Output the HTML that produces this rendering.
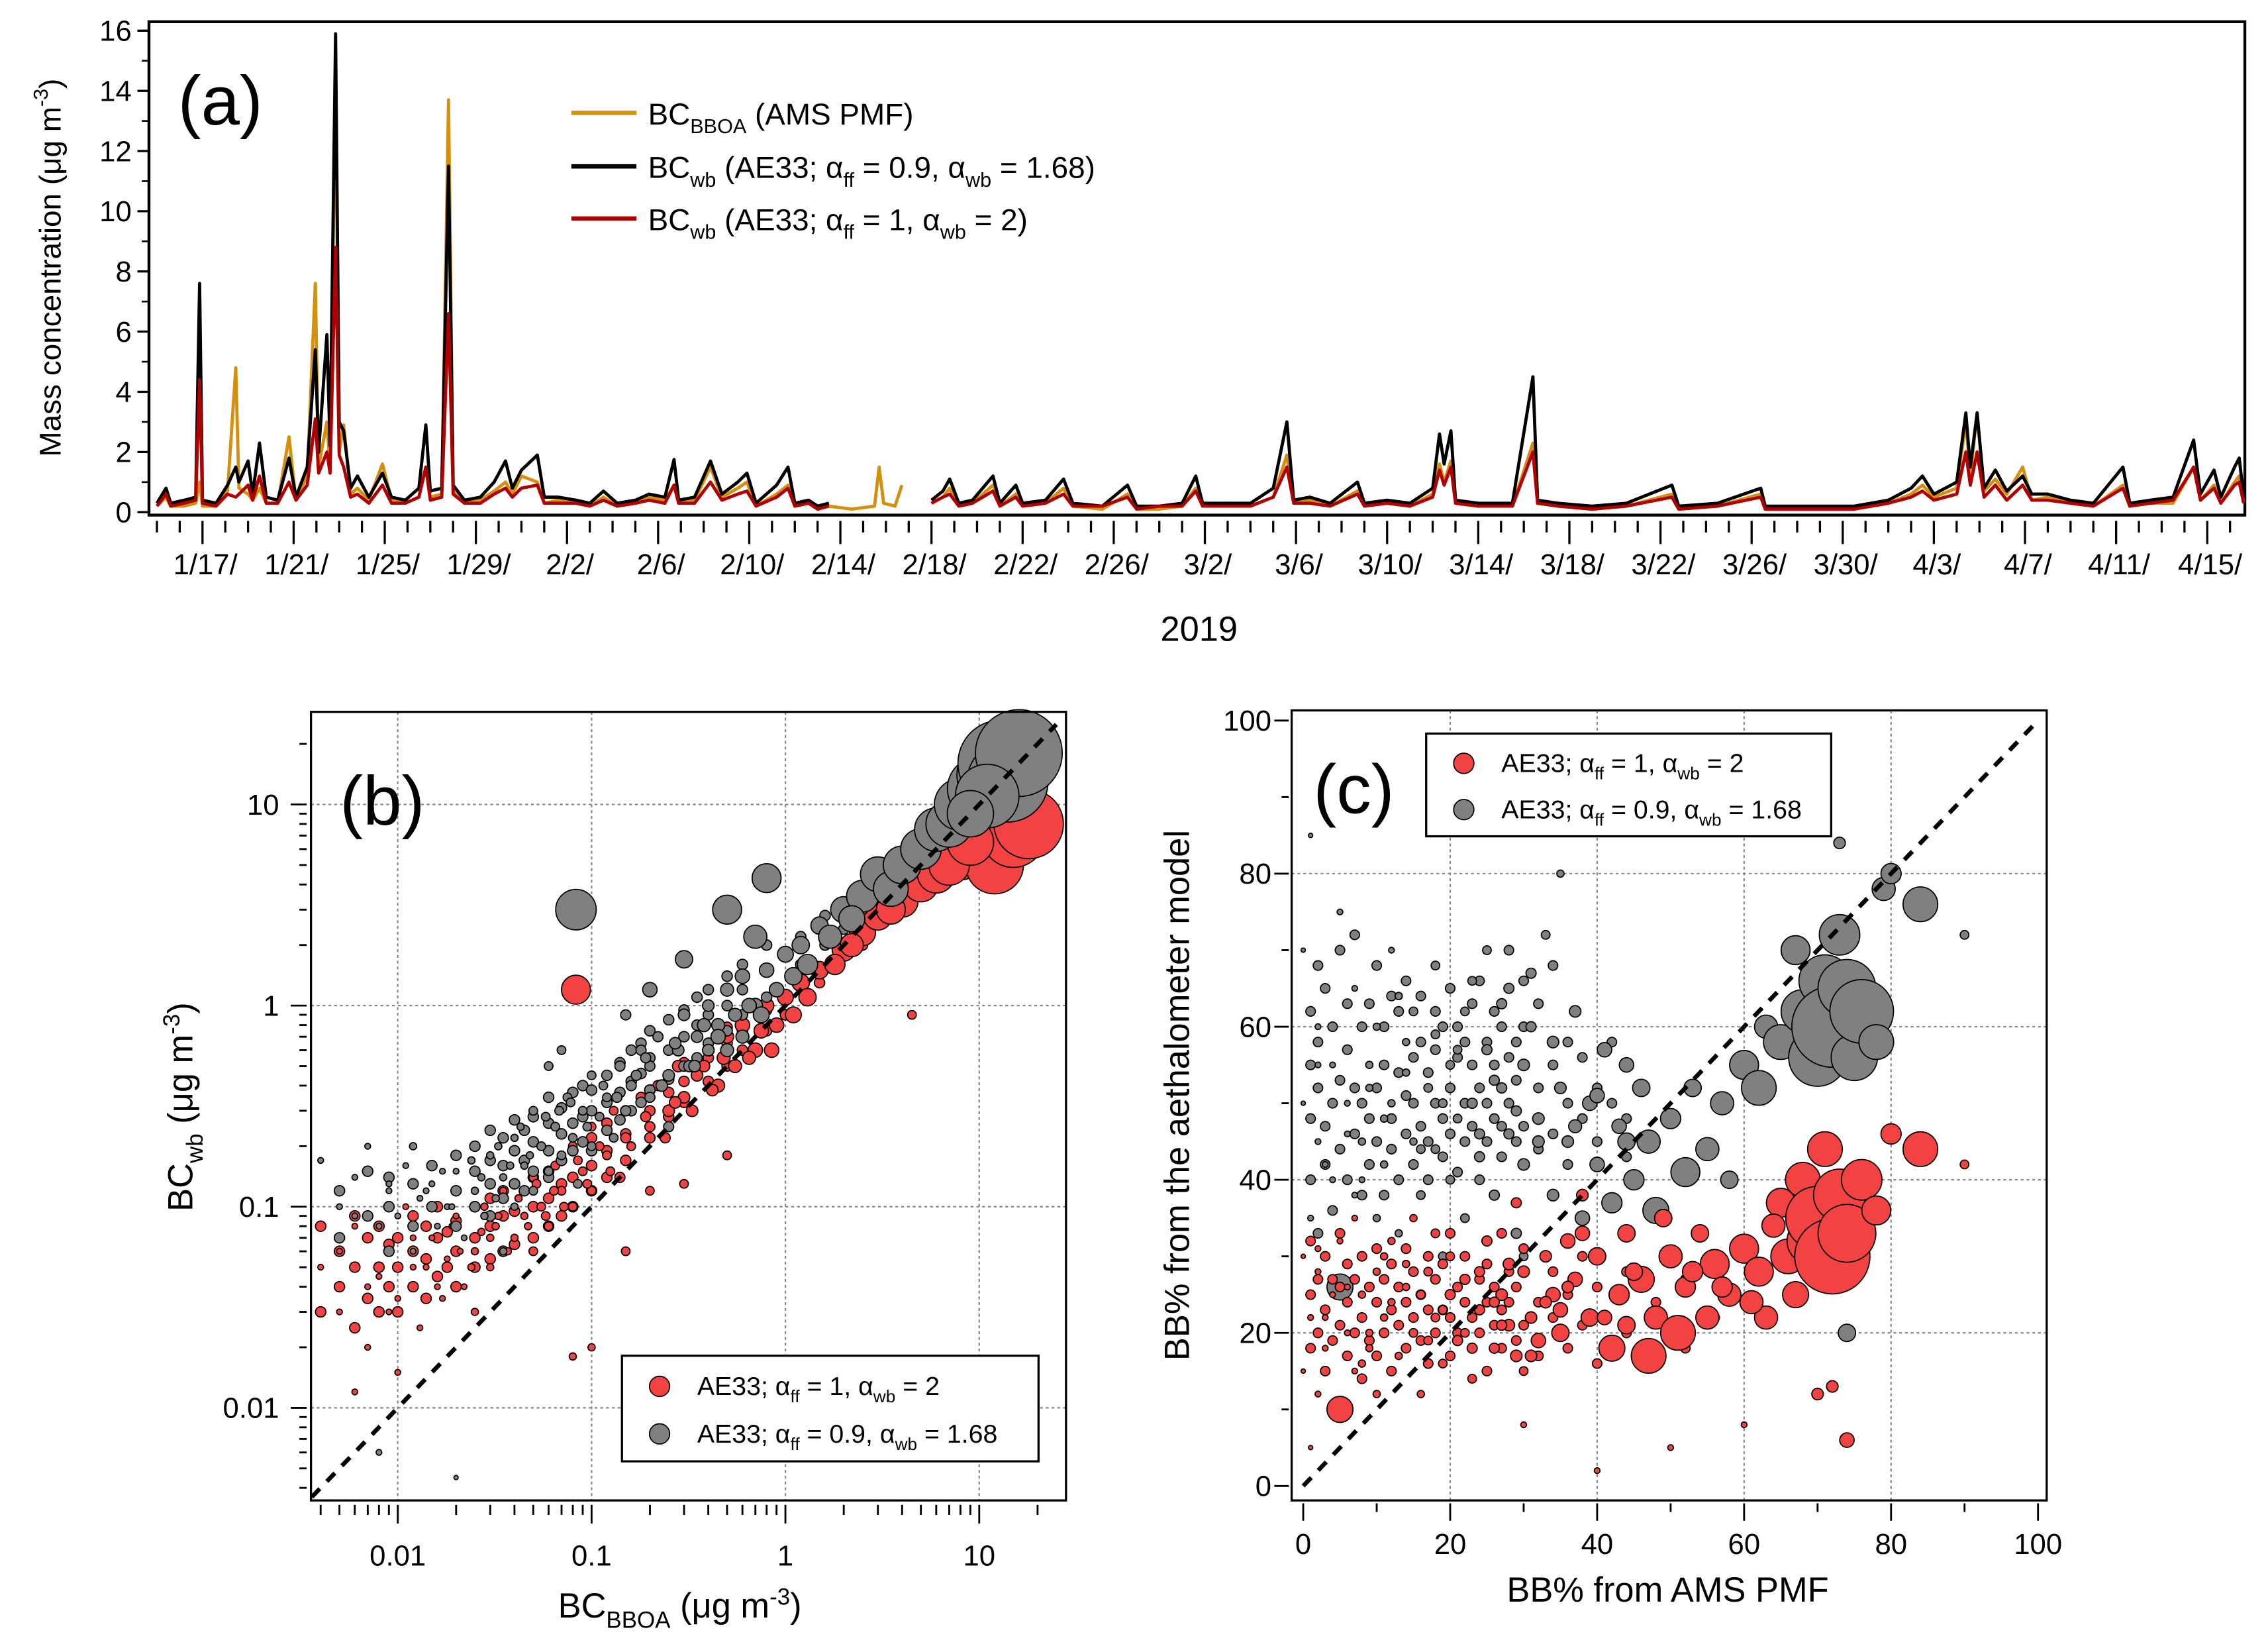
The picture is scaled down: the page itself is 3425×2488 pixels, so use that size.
<!DOCTYPE html>
<html><head><meta charset="utf-8"><style>
html,body{margin:0;padding:0;background:#fff}
svg{display:block;font-family:"Liberation Sans",Arial,sans-serif}
</style></head><body>
<svg id="fig" width="3425" height="2488" viewBox="0 0 1568 1139" preserveAspectRatio="none" xmlns="http://www.w3.org/2000/svg">
<rect width="1568" height="1139" fill="#fff"/>
<g id="pa"></g>
<g id="pb"></g>
<g id="pc"></g>
</svg>
<script>
// ---- Panel (a) data: days since 2019-01-15 00:00
const tDays=[0,0.4,0.6,1.2,1.7,1.87,2.0,2.6,3.1,3.46,3.6,4.0,4.2,4.5,4.8,5.3,5.8,6.1,6.6,6.95,7.1,7.46,7.6,7.84,8.0,8.2,8.5,8.8,9.3,9.9,10.3,10.9,11.5,11.8,12.0,12.5,12.8,13.0,13.5,14.2,14.8,15.3,15.6,16.0,16.7,17.0,17.6,18.4,19.0,19.6,20.2,21.0,21.6,22.3,22.7,22.9,23.6,24.3,24.8,25.5,25.9,26.3,27.2,27.7,28.0,28.6,29.0,29.5,30.5,31.5,31.7,31.9,32.4,32.7,33.5,34.0,34.5,34.8,35.2,35.8,36.7,37.0,37.7,38.0,39.0,39.8,40.2,41.5,42.6,43.0,44.0,45.0,45.6,45.9,47.0,48.0,49.0,49.6,49.9,50.6,51.5,52.7,53.0,54.0,55.0,56.0,56.3,56.5,56.8,57.0,58.0,59.5,60.4,60.6,61.5,63.0,64.5,66.5,66.8,68.5,70.4,70.6,72.5,74.5,76.0,77.0,77.5,78.0,79.0,79.4,79.6,79.9,80.2,80.7,81.2,81.9,82.3,83.0,84.0,85.0,86.3,86.6,87.5,88.5,89.4,89.7,90.3,90.6,91.2,91.4,91.6];
const bcBlack=[.3,.8,.3,.4,.5,7.6,.4,.3,.9,1.5,1.0,1.7,.6,2.3,.5,.4,1.8,.5,1.5,5.4,2.0,5.9,2.2,15.9,3.0,2.7,.8,1.2,.5,1.3,.5,.4,.8,2.9,.7,.8,11.5,.9,.4,.5,1.0,1.7,.8,1.4,1.9,.5,.5,.4,.3,.7,.3,.4,.6,.5,1.75,.4,.5,1.7,.6,1.0,1.3,.3,.9,1.5,.3,.4,.2,.3,null,null,null,null,null,null,null,.4,.7,1.1,.3,.4,1.2,.3,.9,.3,.4,1.1,.3,.2,.9,.2,.2,.3,1.2,.3,.3,.3,.8,3.0,.4,.5,.3,1.0,.3,.4,.3,.8,2.6,1.6,2.7,.4,.3,.3,4.5,.4,.3,.2,.3,.9,.2,.3,.8,.2,.2,.2,.4,.8,1.2,.6,1.0,3.3,1.5,3.3,.8,1.4,.7,1.2,.6,.6,.4,.3,1.5,.3,.4,.5,2.4,.6,1.4,.5,1.5,1.8,.5];
const bcOrange=[.2,.5,.2,.2,.3,1.0,.2,.2,.7,4.8,.8,.6,.4,.8,.3,.3,2.5,.4,1.2,7.6,1.5,3.0,1.5,14.5,2.0,2.9,.6,.8,.4,1.6,.4,.3,.5,1.5,.5,.6,13.7,.7,.3,.4,.7,1.0,.6,1.2,1.0,.3,.4,.3,.2,.5,.2,.3,.5,.4,.9,.3,.4,1.5,.5,.8,1.0,.2,.6,.9,.2,.3,.1,.2,.1,.2,1.5,.3,.2,.9,null,.3,.5,.8,.2,.3,.9,.2,.6,.2,.3,.8,.2,.1,.6,.1,.1,.2,.8,.2,.3,.2,.5,1.9,.3,.4,.2,.7,.2,.3,.2,.6,1.6,1.0,1.7,.3,.2,.2,2.3,.3,.2,.1,.2,.6,.1,.2,.6,.1,.1,.1,.3,.6,.9,.5,.8,3.0,1.2,3.3,.7,1.1,.6,1.5,.4,.5,.3,.2,.9,.2,.3,.3,1.5,.4,.9,.3,1.0,1.2,.3];
const bcRed=[.2,.6,.2,.3,.4,4.4,.3,.2,.6,.5,.6,.9,.4,1.2,.3,.3,1.0,.4,.9,3.1,1.3,2.0,1.3,8.8,1.9,1.5,.5,.6,.3,.9,.3,.3,.5,1.5,.4,.5,6.6,.6,.3,.3,.6,.8,.5,.8,.9,.3,.3,.3,.2,.4,.2,.3,.4,.3,.9,.3,.3,1.0,.4,.6,.7,.2,.5,.8,.2,.3,.1,.2,null,null,null,null,null,null,null,.3,.5,.6,.2,.3,.7,.2,.5,.2,.3,.6,.2,.2,.5,.1,.2,.2,.7,.2,.2,.2,.5,1.5,.3,.3,.2,.6,.2,.3,.2,.5,1.4,.9,1.5,.3,.2,.2,2.0,.3,.2,.1,.2,.5,.1,.2,.5,.1,.1,.1,.3,.5,.7,.4,.6,2.0,.9,2.0,.5,.9,.4,.9,.4,.4,.3,.2,.8,.2,.3,.4,1.5,.4,.8,.3,.9,1.0,.3];
const aYTicks=[0,2,4,6,8,10,12,14,16];
const aDateLabels=["1/17/","1/21/","1/25/","1/29/","2/2/","2/6/","2/10/","2/14/","2/18/","2/22/","2/26/","3/2/","3/6/","3/10/","3/14/","3/18/","3/22/","3/26/","3/30/","4/3/","4/7/","4/11/","4/15/"];

// ---- Panel (b) data
const bRedX=[.004,.005,.006,.007,.008,.009,.01,.011,.012,.013,.015,.016,.018,.02,.022,.025,.028,.03,.032,.035,.04,.045,.05,.05,.055,.06,.065,.07,.08,.08,.09,.1,.1,.12,.13,.14,.15,.18,.2,.22,.25,.28,.3,.35,.4,.45,.5,.55,.6,.7,.8,.9,1.0,1.2,1.5,2,2.5,3,4,5,6,8,10,12,15,18,.083,.5,.3,.15,.1,.08,4.5,.01,.2,.025,.006,.005,.007,.009,.012,.014,.017,.019,.021,.024,.027,.03,.033,.037,.042,.047,.052,.058,.064,.072,.085,.095,.11,.125,.16,.19,.24,.27,.33,.38,.42,.48,.65,.75,.85,1.1,1.3,1.8,2.2,3.5,7,9];
const bRedY=[.05,.03,.08,.02,.045,.06,.035,.1,.05,.025,.07,.04,.055,.09,.04,.06,.1,.05,.08,.12,.07,.09,.06,.14,.1,.08,.16,.12,.1,.2,.15,.12,.25,.18,.3,.14,.22,.35,.25,.4,.3,.5,.35,.45,.6,.4,.7,.5,.8,.6,1.0,.8,1.1,1.3,1.5,1.9,2.3,2.8,3.3,4,4.5,5.5,6,5,7,8,1.2,.18,.13,.06,.02,.018,.9,.015,.12,.03,.012,.06,.04,.03,.07,.05,.035,.08,.06,.05,.075,.07,.09,.06,.11,.08,.13,.09,.12,.1,.17,.13,.2,.15,.2,.28,.22,.33,.3,.5,.38,.55,.55,.75,.6,.9,1.1,1.6,2.0,3.0,5.0,6.5];
const bRedS=[2,2,2,2,2,2,2,2,2,2,2,2,2,2,2,2.5,2.5,2.5,2.5,2.5,2.5,2.5,3,3,3,3,3,3,3,3,3,3,3,3,3,3.5,3.5,3.5,3.5,3.5,4,4,4,4,4,4.5,4.5,4.5,5,5,5,5,5.5,6,6,8,9,10,11,12,13,16,18,20,22,24,10,3,3,3,2.5,2.5,3,2,3,2.5,2,2,2,2,2,2,2,2,2,2.5,2.5,2.5,2.5,2.5,2.5,2.5,3,3,3,3,3,3,3,3,3,3.5,3.5,4,4,4,4,4.5,4.5,5,5,5.5,6,7,8,10,14,16];
const bRedXMore=[.004,.004,.005,.005,.006,.006,.006,.007,.007,.008,.008,.008,.009,.009,.01,.01,.01,.012,.012,.012,.014,.014,.014,.016,.016,.016,.018,.018,.02,.02,.02,.025,.025,.025,.03,.03,.03,.035,.035,.035,.04,.04,.04,.05,.05,.05,.06,.06,.06,.07,.07,.07,.08,.08,.08,.1,.1,.1,.12,.12,.12,.15,.15,.15,.2,.2,.2,.25,.25,.25,.3,.3,.3,.4,.4,.4,.5,.5,.5,.6,.6,.8,.8,1.0,1.0,1.5,2.5,3.5];
const bRedYMore=[.03,.08,.04,.06,.025,.05,.09,.035,.07,.03,.05,.08,.04,.065,.03,.05,.07,.04,.06,.09,.035,.055,.08,.045,.07,.1,.05,.075,.04,.06,.085,.05,.07,.1,.055,.08,.11,.06,.09,.12,.065,.095,.13,.07,.1,.14,.08,.11,.15,.09,.13,.17,.1,.14,.19,.12,.16,.22,.14,.19,.26,.17,.23,.3,.22,.3,.38,.28,.37,.45,.33,.42,.52,.42,.55,.65,.5,.65,.78,.6,.75,.75,.95,.9,1.1,1.3,2.0,2.8];
const bGreyX=[.004,.005,.006,.007,.008,.009,.01,.011,.012,.013,.015,.016,.018,.02,.022,.025,.028,.03,.032,.035,.04,.04,.045,.05,.05,.055,.06,.065,.07,.075,.08,.085,.09,.1,.1,.11,.12,.13,.14,.15,.16,.18,.2,.2,.22,.25,.28,.3,.32,.35,.4,.4,.45,.5,.5,.55,.6,.7,.8,.9,1.0,1.2,1.5,2.0,2.5,3,3.5,4,5,6,7,8,10,12,13,14,.083,.8,.5,.7,.3,.2,.012,.008,.02,.07,.15,.25,.6,.035,.06,.006,.009,.014,.017,.019,.024,.027,.033,.038,.043,.048,.058,.068,.078,.095,.115,.135,.17,.19,.23,.27,.34,.38,.45,.65,.75,1.1,1.3,1.7,2.2,16,11,9];
const bGreyY=[.17,.1,.14,.2,.08,.12,.09,.16,.06,.11,.13,.08,.1,.15,.07,.12,.09,.18,.11,.14,.1,.22,.16,.12,.3,.2,.15,.25,.18,.35,.22,.13,.3,.2,.45,.28,.35,.22,.5,.3,.4,.6,.35,.5,.7,.45,.6,.9,.5,.7,.6,1.0,.8,.6,1.2,.9,1.4,1.0,1.5,1.2,1.8,2.0,2.5,3.0,3.5,4.5,3.8,5,6,7.5,8,10,12,14,16,13,3.0,4.3,3.0,2.2,1.7,1.2,.2,.006,.0045,.6,.9,.25,.7,.06,.5,.09,.13,.12,.15,.1,.17,.14,.2,.16,.25,.18,.28,.3,.33,.25,.4,.35,.45,.55,.4,.65,.5,.8,.7,1.0,.9,1.4,1.6,2.2,2.7,18,11,9];
const bGreyS=[2,2,2,2,2,2,2,2,2,2,2,2,2,2,2,2.5,2.5,2.5,2.5,2.5,2.5,2.5,2.5,3,3,3,3,3,3,3,3,3,3,3,3,3,3,3,3.5,3.5,3.5,3.5,3.5,3.5,3.5,4,4,4,4,4,4,4,4.5,4.5,4.5,4.5,5,5,5,5,5.5,6,6,9,11,12,12,13,14,15,16,18,22,26,30,28,14,10,10,8,6,5,2.5,2,1.5,3,3.5,3.5,4.5,2.5,3,2,2,2,2,2,2.5,2.5,2.5,2.5,2.5,2.5,3,3,3,3,3,3.5,3.5,3.5,4,4,4,4.5,5,5,5.5,6,7,8,9,30,22,16];
const bGreyXMore=[.005,.005,.007,.007,.009,.009,.009,.012,.012,.015,.015,.02,.02,.02,.025,.025,.025,.03,.03,.03,.03,.035,.035,.035,.04,.04,.04,.045,.045,.045,.05,.05,.05,.06,.06,.06,.06,.07,.07,.07,.08,.08,.08,.09,.09,.09,.1,.1,.1,.12,.12,.12,.14,.14,.14,.16,.16,.16,.18,.18,.18,.2,.2,.2,.25,.25,.25,.3,.3,.3,.35,.35,.35,.4,.4,.4,.5,.5,.5,.6,.6,.6,.8,.8,.8,1.2,1.2,1.6,1.6,2,2.5,3,3];
const bGreyYMore=[.07,.12,.09,.15,.06,.1,.14,.08,.13,.1,.16,.08,.12,.18,.1,.15,.2,.09,.13,.17,.24,.11,.16,.22,.13,.19,.27,.12,.17,.24,.15,.21,.28,.14,.19,.26,.35,.17,.23,.31,.19,.26,.37,.21,.28,.4,.19,.3,.38,.24,.33,.45,.27,.37,.52,.3,.42,.6,.33,.46,.65,.38,.55,.75,.43,.6,.85,.5,.7,.95,.55,.8,1.1,.65,.9,1.2,.75,1.0,1.4,.9,1.2,1.6,1.1,1.5,2.0,1.6,2.2,2.0,2.8,2.4,3,3.6,4.4];

// ---- Panel (c) data
const cRedX=[0,0,1,1,2,2,3,4,5,5,6,7,7,8,9,10,10,11,12,13,14,15,15,16,17,18,19,20,20,21,22,23,24,25,26,27,28,29,30,30,31,32,33,34,35,36,37,38,39,40,42,43,44,46,47,48,50,51,52,54,55,56,58,60,62,63,65,66,68,69,70,71,72,73,74,76,78,80,84,90,70,72,74,50,40,60,30,3,6,9,12,14,17,19,22,24,27,29,33,36,41,45,2,8,11,16,18,23,26,28,31,35,38,44,49,53,57,61,64,67];
const cRedY=[30,15,5,22,12,28,18,25,10,32,20,15,35,25,18,28,12,22,32,17,26,20,35,12,28,22,16,30,25,19,27,14,23,32,18,25,21,37,28,15,22,19,30,25,20,32,27,38,22,30,18,25,33,27,17,22,30,20,26,33,22,29,25,31,28,22,37,30,40,32,35,44,30,38,33,40,36,46,44,42,12,13,6,5,2,8,8,22,26,20,24,29,19,23,20,28,21,17,24,26,22,28,31,16,30,25,33,18,24,29,17,23,33,21,35,28,26,24,34,25,27];
const cRedS=[1.5,1.5,1.5,2,2,2,2,2,9,2,2,2,2,2.5,2.5,2.5,2.5,2.5,2.5,2.5,2.5,3,2.5,2.5,3,3,3,3,3.5,3.5,3.5,3,3.5,3.5,3.5,4,4,3.5,4,3,4,5,4,5,6,5,5,4,6,6,9,7,6,9,12,8,8,12,7,6,8,10,8,10,10,8,10,12,12,16,22,12,26,18,20,14,10,7,12,3,4,4,5,2,2,2,2,2,2,2.5,2.5,2.5,3,3,3,3.5,3.5,4,4,4,5,6,2,2.5,2.5,3,3,3.5,3.5,4,4,5,5,6,6,7,7,8,8,9];
const cRedXMore=[1,1,1,2,2,3,3,3,4,4,5,5,5,6,6,6,7,7,8,8,8,9,9,10,10,10,11,11,12,12,12,13,13,14,14,14,15,15,16,16,17,17,17,18,18,19,19,20,20,20,21,21,22,22,23,23,24,24,25,25,25,26,26,27,27,27,28,28,29,29,30,30,32,32,34,34,36,36,38,38,40,40,44,44,48,52,52,56];
const cRedYMore=[18,25,32,20,27,15,23,30,19,27,21,26,33,17,24,29,20,27,14,22,30,19,26,17,24,31,20,27,15,23,29,21,26,18,24,31,22,28,19,25,16,23,30,20,27,23,29,17,22,33,20,26,24,30,18,22,20,27,15,24,29,21,26,18,23,33,24,28,19,26,21,31,17,24,22,28,18,25,21,30,16,26,20,28,24,18,27,22];
const cGreyX=[0,0,1,1,2,2,3,4,4,5,5,6,7,7,8,9,10,10,11,12,12,13,14,15,15,16,17,18,18,19,20,20,21,22,22,23,24,25,25,26,27,28,28,29,30,30,31,32,33,34,35,35,36,37,38,39,40,41,42,43,44,45,46,47,48,50,52,53,55,57,58,60,62,63,65,67,68,70,71,72,73,74,75,76,78,79,80,84,90,73,74,72,30,20,3,6,9,11,14,16,19,21,24,26,29,32,34,37,40,44,13,18,23,27,31,2,8];
const cGreyY=[50,70,85,35,45,60,30,55,40,26,75,50,38,65,45,55,35,60,42,50,70,33,58,45,62,38,52,44,68,30,55,40,48,62,35,50,43,57,70,38,52,46,65,33,55,42,60,48,72,38,52,80,45,62,35,50,42,57,37,47,55,40,52,45,36,48,41,52,44,50,40,55,52,60,58,70,62,56,66,60,72,65,56,62,58,78,80,76,72,84,20,27,30,25,42,46,52,48,54,44,50,57,46,53,49,45,58,47,51,45,64,59,66,63,67,55,40];
const cGreyS=[1.5,1.5,1.5,2,2,2,2,2,2,9,2,2,2,2,2.5,2.5,2.5,2.5,2.5,2.5,2,2.5,2.5,2.5,3,3,3,3,3,3,3,3,3,3,3,3.5,3.5,3.5,3,3.5,3.5,3.5,3.5,3.5,4,4,3.5,4,3,4,4,2.5,4,4,5,5,5,5,7,5,5,7,6,8,9,7,10,6,8,8,6,10,12,8,12,10,15,20,18,28,14,20,16,22,12,8,7,12,3,4,6,4,3,3,2,2,2.5,2.5,2.5,3,3,3,3.5,3.5,3.5,4,4,4.5,5,6,2.5,3,3,3.5,3.5,2,2];
const cGreyXMore=[1,1,1,1,2,2,2,2,3,3,3,4,4,4,5,5,5,6,6,6,7,7,7,8,8,8,9,9,9,10,10,10,11,11,11,12,12,12,13,13,13,14,14,14,15,15,15,16,16,16,17,17,17,18,18,18,19,19,19,20,20,20,21,21,21,22,22,22,23,23,23,24,24,24,25,25,25,26,26,26,27,27,27,28,28,28,29,29,29,30,30,30,32,32,32,34,34,34,36,36,36,38,38,40,40,42,42,44,44];
const cGreyYMore=[40,48,55,62,33,52,58,68,42,47,65,36,50,60,44,53,70,40,57,63,46,52,72,38,50,60,42,48,63,45,52,68,38,55,60,44,48,64,40,54,62,46,51,66,42,50,56,47,58,64,40,45,54,50,57,62,43,48,60,46,52,65,41,56,60,45,50,58,47,55,63,40,52,66,45,50,58,48,55,62,43,47,60,50,56,70,45,53,58,47,60,66,44,52,63,46,55,68,42,50,58,48,56,45,52,50,58,43,48];

const NS='http://www.w3.org/2000/svg';
function mk(parent,tag,attrs){const e=document.createElementNS(NS,tag);for(const k in attrs)e.setAttribute(k,attrs[k]);parent.appendChild(e);return e;}
function txt(parent,x,y,s,size,anchor,extra){const t=mk(parent,'text',Object.assign({x:x,y:y,'font-size':size,'text-anchor':anchor||'middle',fill:'#000'},extra||{}));t.textContent=s;return t;}
function sub(t,s,size,dy){const sp=mk(t,'tspan',{'font-size':size,dy:dy});sp.textContent=s;return sp;}
function plain(t,s,dy){const sp=mk(t,'tspan',{dy:dy||0});sp.textContent=s;return sp;}

// ================= Panel (a) =================
const pa=document.getElementById('pa');
const aL=103,aR=1552,aT=15,aB=356;
const ax=t=>108.5+t*15.75;
const ay=v=>354-v*20.8;
const frameA=mk(pa,'rect',{x:aL,y:aT,width:aR-aL,height:aB-aT,fill:'none',stroke:'#000','stroke-width':2});


aYTicks.forEach(v=>{
  const l=mk(pa,'line',{x1:aL-8,x2:aL,y1:ay(v),y2:ay(v),stroke:'#000','stroke-width':1.5});
  
  
  if(v<16){const m=mk(pa,'line',{x1:aL-5,x2:aL,y1:ay(v+1),y2:ay(v+1),stroke:'#000','stroke-width':1.2});}
  const t=txt(pa,aL-12,ay(v)+7,String(v),20,'end');
  
  
});
for(let d=0;d<=91;d++){
  const major=(d-2)%4===0&&d>=2;
  const l=mk(pa,'line',{x1:ax(d),x2:ax(d),y1:aB+4,y2:aB+(major?20:12),stroke:'#000','stroke-width':1.5});
  
  
}
aDateLabels.forEach((s,i)=>{
  const t=txt(pa,ax(2+i*4)+2,397,s,20,'middle');
  
  
});
const yr=txt(pa,829,443,'2019',24,'middle');


const yla=txt(pa,0,0,'Mass concentration (μg m',21,'middle',{transform:'translate(42,185) rotate(-90)'});
sub(yla,'-3',14,-9);plain(yla,')',9);


function series(vals,color,name,w){
  let d='',pen=false;
  tDays.forEach((t,i)=>{const v=vals[i];if(v===null){pen=false;return;}d+=(pen?'L':'M')+ax(t).toFixed(1)+','+ay(v).toFixed(1);pen=true;});
  const p=mk(pa,'path',{d:d,fill:'none',stroke:color,'stroke-width':w,'stroke-linejoin':'round'});
  
  
}
series(bcOrange,'#d4900c','line-bc-bboa',2.2);
series(bcBlack,'#000','line-bc-wb-0.9-1.68',2.2);
series(bcRed,'#b00000','line-bc-wb-1-2',2.2);
const la=txt(pa,123,86,'(a)',48,'start');


const legA=[['#d4900c',78,'BBOA',' (AMS PMF)',null],['#000',115,'wb',' (AE33; ','0.9, ','1.68)'],['#b00000',151,'wb',' (AE33; ','1, ','2)']];
legA.forEach((e,i)=>{
  const l=mk(pa,'line',{x1:395,x2:440,y1:e[1],y2:e[1],stroke:e[0],'stroke-width':3});
  
  
  const t=txt(pa,448,e[1]+8,'BC',21,'start');
  sub(t,e[2],14,6);
  if(i===0){plain(t,e[3],-6);}
  else{plain(t,e[3],-6);plain(t,'α',0);sub(t,'ff',14,6);plain(t,'  = '+e[4],-6);plain(t,'α',0);sub(t,'wb',14,6);plain(t,' = '+e[5],-6);}
  
  
});

// ================= Panel (b) =================
const pb=document.getElementById('pb');
const bL=215,bR=737,bT=492,bB=1037;
const bx=v=>275+(Math.log10(v)+2)*134;
const by=v=>973-(Math.log10(v)+2)*139;
const bDec=[0.01,0.1,1,10];
const bDecLabels=['0.01','0.1','1','10'];
bDec.forEach((v,i)=>{
  const g1=mk(pb,'line',{x1:bx(v),x2:bx(v),y1:bT,y2:bB,stroke:'#888','stroke-width':1,'stroke-dasharray':'2,2'});
  
  
  const g2=mk(pb,'line',{x1:bL,x2:bR,y1:by(v),y2:by(v),stroke:'#888','stroke-width':1,'stroke-dasharray':'2,2'});
  
  
  const tx=txt(pb,bx(v),1082,bDecLabels[i],20,'middle');
  
  
  const ty=txt(pb,bL-22,by(v)+7,bDecLabels[i],20,'end');
  
  
});
for(let e=-3;e<=1;e++)for(let m=1;m<=9;m++){
  const v=m*Math.pow(10,e);
  if(v>0.0035&&v<28){const l=mk(pb,'line',{x1:bx(v),x2:bx(v),y1:bB+3,y2:bB+(m===1?16:10),stroke:'#000','stroke-width':1.3});}
  if(by(v)>bT&&by(v)<bB){const l=mk(pb,'line',{x1:bL-(m===1?14:8),x2:bL-3,y1:by(v),y2:by(v),stroke:'#000','stroke-width':1.3});}
}
function dots(g,X,Y,S,fx,fy,fill,name){
  X.forEach((x,i)=>{
    const r=Array.isArray(S)?S[i]:S;
    const c=mk(g,'circle',{cx:fx(x).toFixed(1),cy:fy(Y[i]).toFixed(1),r:r,fill:fill,stroke:'#000','stroke-width':0.8});
    
    
  });
}
dots(pb,bRedXMore,bRedYMore,3.6,bx,by,'#f24242','point-red-b');
dots(pb,bRedX,bRedY,bRedS,bx,by,'#f24242','point-red-b');
dots(pb,bGreyXMore,bGreyYMore,3.6,bx,by,'#808080','point-grey-b');
dots(pb,bGreyX,bGreyY,bGreyS,bx,by,'#808080','point-grey-b');
const oneB=mk(pb,'line',{x1:bx(0.0036),y1:by(0.0036),x2:bx(25),y2:by(25),stroke:'#000','stroke-width':3,'stroke-dasharray':'8,7'});


const frameB=mk(pb,'rect',{x:bL,y:bT,width:bR-bL,height:bB-bT,fill:'none',stroke:'#000','stroke-width':1.5});


const lb=txt(pb,235,570,'(b)',48,'start');


const xlb=txt(pb,470,1118,'BC',24,'middle');sub(xlb,'BBOA',16,7);plain(xlb,' (μg m',-7);sub(xlb,'-3',16,-9);plain(xlb,')',9);


const ylb=txt(pb,0,0,'BC',24,'middle',{transform:'translate(133,765) rotate(-90)'});sub(ylb,'wb',16,7);plain(ylb,' (μg m',-7);sub(ylb,'-3',16,-9);plain(ylb,')',9);


function legend(g,x,y,w,h,tag){
  const r=mk(g,'rect',{x:x,y:y,width:w,height:h,fill:'#fff',stroke:'#000','stroke-width':1.5});
  
  
  [['#f24242','1','2'],['#808080','0.9','1.68']].forEach((e,i)=>{
    const cy=y+h*(i===0?0.29:0.74);
    const c=mk(g,'circle',{cx:x+26,cy:cy,r:7,fill:e[0],stroke:'#000','stroke-width':0.8});
    
    
    const t=txt(g,x+52,cy+6,'AE33; α',18,'start');sub(t,'ff',12,5);plain(t,' = '+e[1]+', α',-5);sub(t,'wb',12,5);plain(t,' = '+e[2],-5);
    
    
  });
}
legend(pb,430,937,288,73,'b');

// ================= Panel (c) =================
const pc=document.getElementById('pc');
const cL=893,cR=1415,cT=491,cB=1037;
const cx=v=>901+v*5.08;
const cy=v=>1027-v*5.29;
const cTicks=[0,20,40,60,80,100];
cTicks.forEach(v=>{
  if(v>0&&v<100){
    const g1=mk(pc,'line',{x1:cx(v),x2:cx(v),y1:cT,y2:cB,stroke:'#888','stroke-width':1,'stroke-dasharray':'2,2'});
    
    
    const g2=mk(pc,'line',{x1:cL,x2:cR,y1:cy(v),y2:cy(v),stroke:'#888','stroke-width':1,'stroke-dasharray':'2,2'});
    
    
  }
  const tx=txt(pc,cx(v),1074,String(v),20,'middle');
  
  
  const ty=txt(pc,cL-14,cy(v)+7,String(v),20,'end');
  
  
});
for(let v=0;v<=100;v+=10){
  const l1=mk(pc,'line',{x1:cx(v),x2:cx(v),y1:cB+2,y2:cB+(v%20===0?14:8),stroke:'#000','stroke-width':1.3});
  
  
  const l2=mk(pc,'line',{x1:cL-(v%20===0?12:7),x2:cL-2,y1:cy(v),y2:cy(v),stroke:'#000','stroke-width':1.3});
  
  
}
dots(pc,cGreyXMore,cGreyYMore,3.3,cx,cy,'#808080','point-grey-c');
dots(pc,cGreyX,cGreyY,cGreyS,cx,cy,'#808080','point-grey-c');
dots(pc,cRedXMore,cRedYMore,3.3,cx,cy,'#f24242','point-red-c');
dots(pc,cRedX,cRedY,cRedS,cx,cy,'#f24242','point-red-c');
const oneC=mk(pc,'line',{x1:cx(0),y1:cy(0),x2:cx(100),y2:cy(100),stroke:'#000','stroke-width':3,'stroke-dasharray':'8,7'});


const frameC=mk(pc,'rect',{x:cL,y:cT,width:cR-cL,height:cB-cT,fill:'none',stroke:'#000','stroke-width':1.5});


const lc=txt(pc,908,562,'(c)',48,'start');


legend(pc,986,507,280,71,'c');
const xlc=txt(pc,1153,1107,'BB% from AMS PMF',24,'middle');


const ylc=txt(pc,0,0,'BB% from the aethalometer model',24,'middle',{transform:'translate(822,757) rotate(-90)'});


</script>
</body></html>
